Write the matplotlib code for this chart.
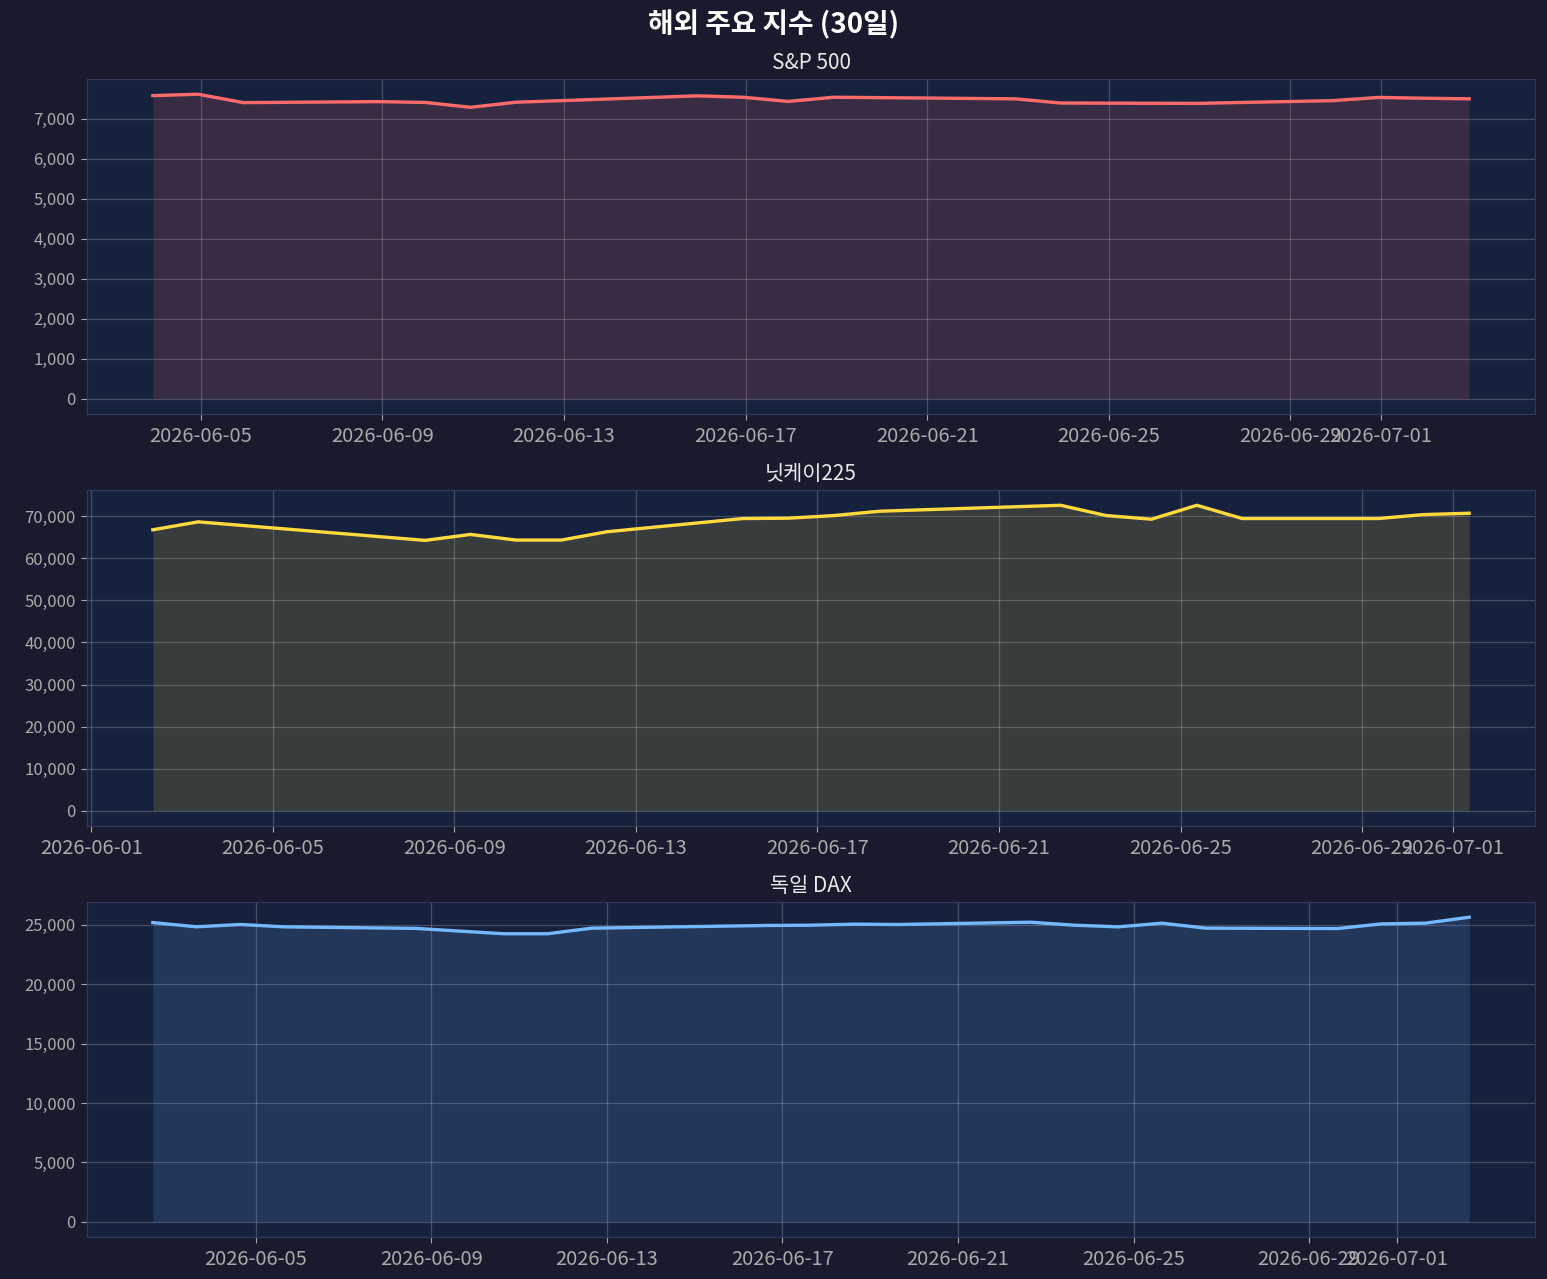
import matplotlib
matplotlib.use("Agg")
import matplotlib.pyplot as plt
import matplotlib.ticker as mticker
import pandas as pd

plt.rcParams['font.family'] = ['Noto Sans CJK KR', 'DejaVu Sans']

# S&P 500 (US trading days)
sp_dates = ['2026-06-03', '2026-06-04', '2026-06-05', '2026-06-08', '2026-06-09',
            '2026-06-10', '2026-06-11', '2026-06-12', '2026-06-15', '2026-06-16',
            '2026-06-17', '2026-06-18', '2026-06-22', '2026-06-23', '2026-06-24',
            '2026-06-25', '2026-06-26', '2026-06-29', '2026-06-30', '2026-07-01',
            '2026-07-02']
sp_values = [7575, 7610, 7400, 7425, 7405, 7283, 7410, 7450, 7570, 7535,
             7430, 7535, 7495, 7390, 7387, 7384, 7381, 7450, 7530, 7510,
             7495]
sp_time = '22:36'

# Nikkei 225
nk_dates = ['2026-06-02', '2026-06-03', '2026-06-04', '2026-06-05', '2026-06-08',
            '2026-06-09', '2026-06-10', '2026-06-11', '2026-06-12', '2026-06-15',
            '2026-06-16', '2026-06-17', '2026-06-18', '2026-06-19', '2026-06-22',
            '2026-06-23', '2026-06-24', '2026-06-25', '2026-06-26', '2026-06-29',
            '2026-06-30', '2026-07-01']
nk_values = [66770, 68660, 67780, 66900, 64255, 65670, 64330, 64330, 66300, 69450,
             69530, 70150, 71180, 71540, 72600, 70160, 69290, 72600, 69450, 69450,
             70390, 70710]
nk_time = '08:36'

# DAX
dax_dates = ['2026-06-02', '2026-06-03', '2026-06-04', '2026-06-05', '2026-06-08',
             '2026-06-09', '2026-06-10', '2026-06-11', '2026-06-12', '2026-06-15',
             '2026-06-16', '2026-06-17', '2026-06-18', '2026-06-19', '2026-06-22',
             '2026-06-23', '2026-06-24', '2026-06-25', '2026-06-26', '2026-06-29',
             '2026-06-30', '2026-07-01', '2026-07-02']
dax_values = [25190, 24833, 25030, 24830, 24700, 24470, 24250, 24250, 24720, 24890,
              24945, 24970, 25055, 25030, 25220, 24970, 24830, 25140, 24720, 24690,
              25080, 25140, 25640]
dax_time = '15:36'

titles = ['S&P 500', '닛케이225', '독일 DAX']
colors = ['#ff6b6b', '#ffd93d', '#74b9ff']

series = [(sp_dates, sp_values, sp_time),
          (nk_dates, nk_values, nk_time),
          (dax_dates, dax_values, dax_time)]

fig_bg = '#1a1a2e'
ax_bg = '#16213e'
tick_c = '#aaaaaa'

fig = plt.figure(figsize=(15.47, 12.79), dpi=100, facecolor=fig_bg)

W, H = 1547, 1279
boxes = [(79, 414), (490, 826), (902, 1237)]
left, right = 87, 1535

for i, (dates, values, tm) in enumerate(series):
    top, bot = boxes[i]
    ax = fig.add_axes([left / W, 1 - bot / H, (right - left) / W, (bot - top) / H])
    ax.set_facecolor(ax_bg)
    x = pd.to_datetime([f'{d} {tm}' for d in dates])
    ax.plot(x, values, color=colors[i], linewidth=2.4, zorder=3)
    ax.fill_between(x, values, 0, color=colors[i], alpha=0.15, linewidth=0, zorder=2)
    ax.set_title(titles[i], color='#e8e8e8', fontsize=15, pad=7)
    ax.grid(True, color='white', alpha=0.2, linewidth=0.9)
    ax.yaxis.set_major_formatter(mticker.StrMethodFormatter('{x:,.0f}'))
    ax.tick_params(axis='y', colors=tick_c, labelsize=12, length=4.2, pad=4)
    ax.tick_params(axis='x', colors=tick_c, labelsize=14.5, length=4.2, pad=4.5)
    for sp in ax.spines.values():
        sp.set_color('#34385a')

fig.suptitle('해외 주요 지수 (30일)', color='white', fontsize=20, fontweight='bold',
             y=1 - 25 / H, va='center')

fig.savefig('out.png', dpi=100, facecolor=fig_bg)
